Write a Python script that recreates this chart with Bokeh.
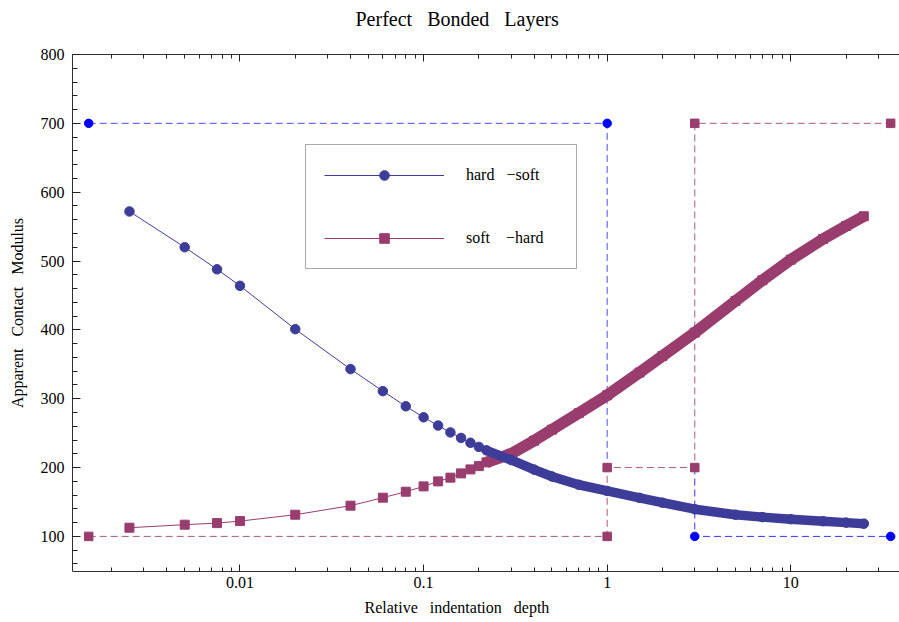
import numpy as np
from bokeh.plotting import figure
from bokeh.models import (LogAxis, FixedTicker, SingleIntervalTicker, Legend,
                          LegendItem, Range1d, CustomJSTickFormatter, Title)
from bokeh.embed import file_html
from bokeh.resources import INLINE

# ---------------- data ----------------
depth = [0.0025, 0.005, 0.0075, 0.01, 0.02, 0.04, 0.06, 0.08, 0.10, 0.12,
         0.14, 0.16, 0.18, 0.20, 0.22, 0.3, 0.4, 0.5, 0.7, 1.0,
         1.5, 2.0, 3.0, 5.0, 7.0, 10.0, 15.0, 20.0, 25.0]
hard_soft = [572, 520, 488, 464, 401, 343, 311, 289, 273, 261,
             251, 243, 236, 230, 225, 211, 197, 187, 175, 166,
             156, 149, 139.5, 131.5, 128, 125, 122, 120, 118.5]
soft_hard = [112.6, 117, 119.3, 122.2, 131.5, 144.6, 156.2, 164.9, 172.6, 179.9,
             185.3, 191.5, 197.3, 202.1, 207.5, 220, 239, 255, 279, 305,
             338, 362, 396, 442, 472, 502, 532, 551, 565]
dense_from = 0.22   # from here on the markers merge into a solid band

# reference (dashed) guide lines
hs_guide1_x = [0.0015, 1, 1]
hs_guide1_y = [700, 700, 200]
hs_guide2_x = [3, 3, 35]
hs_guide2_y = [200, 100, 100]
hs_guide_pts_x = [0.0015, 1, 3, 35]
hs_guide_pts_y = [700, 700, 100, 100]
sh_guide_x = [0.0015, 1, 1, 3, 3, 35]
sh_guide_y = [100, 100, 200, 200, 700, 700]

x_ticks = [0.001, 0.01, 0.1, 1, 10, 100]
y_tick_step = 100
x_lo, x_hi = 0.001224, 39.1
y_lo, y_hi = 49, 800

BLUE = "#3d3d99"
PURPLE = "#993d6e"
REF_BLUE = "#0000ff"
FONT = "Liberation Serif"
SP = "\u00a0\u00a0 "   # wide word gap as in the reference

# ---------------- figure ----------------
p = figure(width=899, height=622, x_axis_type="log",
           x_range=Range1d(x_lo, x_hi), y_range=Range1d(y_lo, y_hi),
           output_backend="svg", toolbar_location=None,
           min_border_left=72, min_border_right=0, min_border_top=54,
           min_border_bottom=51)
p.grid.visible = False
p.outline_line_color = None
p.background_fill_color = "white"
p.border_fill_color = "white"

p.title.text = "Perfect" + SP + "Bonded" + SP + "Layers"
p.title.text_font = FONT
p.title.text_font_size = "20px"
p.title.text_font_style = "normal"
p.title.text_color = "black"
p.title.align = "left"
p.title.offset = 283
p.title.standoff = 0

minor = [m * 10.0 ** e for e in range(-4, 3) for m in range(2, 10)]
xticker = FixedTicker(ticks=x_ticks, minor_ticks=minor)

def style_axis(ax):
    ax.axis_line_color = "#303030"
    ax.major_tick_line_color = "#202020"
    ax.minor_tick_line_color = "#202020"
    ax.major_tick_in = 7
    ax.major_tick_out = 0
    ax.minor_tick_in = 4
    ax.minor_tick_out = 0
    ax.major_label_text_font = FONT
    ax.major_label_text_font_size = "16px"
    ax.major_label_text_color = "black"
    ax.axis_label_text_font = FONT
    ax.axis_label_text_font_size = "16px"
    ax.axis_label_text_font_style = "normal"
    ax.axis_label_text_color = "black"

xa = p.xaxis[0]
xa.ticker = xticker
xa.formatter = CustomJSTickFormatter(code="return tick.toString();")
style_axis(xa)
xa.major_label_standoff = 5

xlabel = Title(text="Relative" + SP + "indentation" + SP + "depth", align="left",
               offset=292, text_font=FONT, text_font_size="16px",
               text_font_style="normal", text_color="black", standoff=12)
p.add_layout(xlabel, "below")

ya = p.yaxis[0]
ya.ticker = SingleIntervalTicker(interval=y_tick_step, num_minor_ticks=5)
ya.axis_label = "Apparent" + SP + "Contact" + SP + "Modulus"
style_axis(ya)
ya.major_tick_in = 8
ya.minor_tick_in = 5
ya.major_label_standoff = 8
ya.axis_label_standoff = 12

# top frame edge: ticks only; a blank axis label keeps a gap above the frame
top = LogAxis(ticker=xticker)
style_axis(top)
top.formatter = CustomJSTickFormatter(code="return '';")
top.major_label_standoff = 0
top.axis_label = "\u00a0"
top.axis_label_text_font_size = "18px"
top.axis_label_standoff = 2
p.add_layout(top, "above")

# ---------------- guide lines ----------------
p.line(hs_guide1_x, hs_guide1_y, color=REF_BLUE, line_alpha=0.7, line_width=1, line_dash="7 4")
p.line(hs_guide2_x, hs_guide2_y, color=REF_BLUE, line_alpha=0.8, line_width=1, line_dash="7 4")
p.line(sh_guide_x, sh_guide_y, color=PURPLE, line_alpha=0.85, line_width=1, line_dash="7 4")
p.scatter(hs_guide_pts_x, hs_guide_pts_y, marker="circle", size=8.5, color=REF_BLUE)
p.scatter(sh_guide_x, sh_guide_y, marker="square", size=8.5, color=PURPLE)

# ---------------- series ----------------
d = np.array(depth)
hs = np.array(hard_soft, dtype=float)
sh = np.array(soft_hard, dtype=float)
mask = d >= dense_from

p.line(d[mask], sh[mask], color=PURPLE, line_width=11.5, line_cap="butt", line_join="round")
sh_line = p.line(d, sh, color=PURPLE, line_width=1)
sh_pts = p.scatter(d, sh, marker="square", size=9, color=PURPLE)

p.line(d[mask], hs[mask], color=BLUE, line_width=9.5, line_cap="round", line_join="round")
hs_line = p.line(d, hs, color=BLUE, line_width=1)
hs_pts = p.scatter(d, hs, marker="circle", size=9.5, color=BLUE)

legend = Legend(items=[LegendItem(label="hard\u00a0\u00a0 \u2212soft", renderers=[hs_line, hs_pts]),
                       LegendItem(label="soft\u00a0\u00a0\u00a0 \u2212hard", renderers=[sh_line, sh_pts])],
                location=(233, 302), orientation="vertical",
                glyph_width=120, glyph_height=24, label_standoff=22,
                spacing=39, padding=18, label_width=92, label_height=24,
                label_text_font=FONT, label_text_font_size="16px",
                label_text_color="black",
                border_line_color="#555555", border_line_width=1,
                background_fill_color="white", background_fill_alpha=1)
p.add_layout(legend)

open("out.html", "w").write(file_html(p, INLINE))
